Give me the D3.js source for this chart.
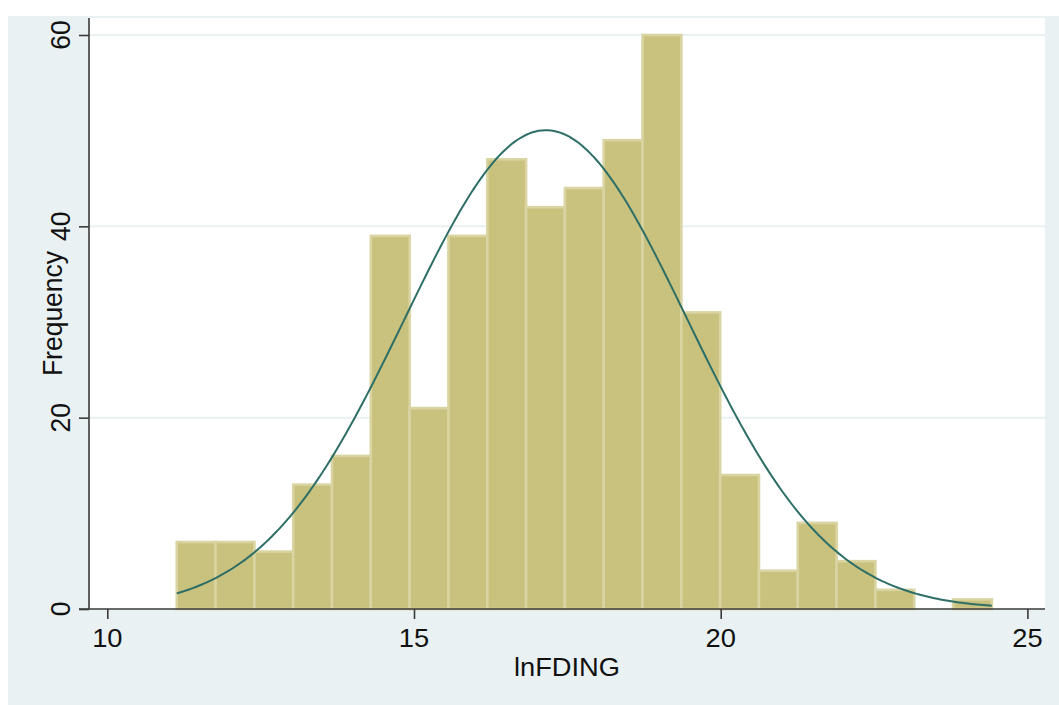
<!DOCTYPE html>
<html>
<head>
<meta charset="utf-8">
<script src="https://cdn.jsdelivr.net/npm/d3@7"></script>
<style>
  body { margin: 0; background: #fff; }
  svg { display: block; }
</style>
</head>
<body>
<div class="hist"></div>
<script>
// histogram of lnFDING, 21 bins
var binStart = 11.132,
  binWidth = 0.6328,
  counts = [7, 7, 6, 13, 16, 39, 21, 39, 47, 42, 44, 49, 60, 31, 14, 4, 9, 5, 2, 0, 1];

var xTicks = [10, 15, 20, 25],
  yTicks = [0, 20, 40, 60];

var xTitle = "lnFDING",
  yTitle = "Frequency";

// normal overlay (mean / sd)
var mean = 17.15,
  sd = 2.30;

var width = 1059,
  height = 705,
  plot = { left: 89, right: 1045, top: 18, bottom: 609 },
  stretch = 1.03,
  fontSize = 26.5;

var svg = d3.select(".hist").append("svg")
  .attr("width", width)
  .attr("height", height)
  .style("font-family", "'Liberation Sans', Arial, Helvetica, sans-serif")

svg.append("rect")
  .attr("x", 8).attr("y", 16)
  .attr("width", width - 8).attr("height", height - 16)
  .attr("fill", "#e9f1f3")

svg.append("rect")
  .attr("x", plot.left).attr("y", plot.top)
  .attr("width", plot.right - plot.left).attr("height", plot.bottom - plot.top)
  .attr("fill", "#ffffff")

var xScale = d3.scaleLinear()
  .domain([10, 25])
  .range([107.3, 1027.4])

var yScale = d3.scaleLinear()
  .domain([0, 60])
  .range([609, 35])

// grid
svg.append("g")
  .selectAll("line")
  .data(yTicks.slice(1))
  .enter().append("line")
  .attr("x1", plot.left)
  .attr("x2", plot.right)
  .attr("y1", yScale)
  .attr("y2", yScale)
  .attr("stroke", "#e9f1f3")
  .attr("stroke-width", 2)

// bars
var bins = counts.map(function(c, i) {
  return { x0: binStart + i * binWidth, x1: binStart + (i + 1) * binWidth, n: c }
})

svg.append("g")
  .selectAll("rect")
  .data(bins.filter(function(d) { return d.n > 0 }))
  .enter().append("rect")
  .attr("x", function(d) { return xScale(d.x0) })
  .attr("width", function(d) { return xScale(d.x1) - xScale(d.x0) })
  .attr("y", function(d) { return yScale(d.n) })
  .attr("height", function(d) { return yScale(0) - yScale(d.n) })
  .attr("fill", "#c9c17e")
  .attr("stroke", "#d9d4a1")
  .attr("stroke-width", 2.6)

// normal density scaled to frequency
var total = d3.sum(counts),
  dataMax = binStart + counts.length * binWidth,
  peak = total * binWidth / (sd * Math.sqrt(2 * Math.PI));

var curve = d3.range(binStart, dataMax, 0.05).concat([dataMax]).map(function(x) {
  return [x, peak * Math.exp(-Math.pow(x - mean, 2) / (2 * sd * sd))]
})

svg.append("path")
  .datum(curve)
  .attr("fill", "none")
  .attr("stroke", "#2d6f66")
  .attr("stroke-width", 2)
  .attr("d", d3.line()
    .x(function(d) { return xScale(d[0]) })
    .y(function(d) { return yScale(d[1]) }))

// axes
var xAxis = svg.append("g")
  .attr("transform", `translate(0,${plot.bottom})`)
  .call(d3.axisBottom(xScale).tickValues(xTicks).tickSize(10).tickSizeOuter(0))

var yAxis = svg.append("g")
  .attr("transform", `translate(${plot.left},0)`)
  .call(d3.axisLeft(yScale).tickValues(yTicks).tickSize(10).tickSizeOuter(0))

;[xAxis, yAxis].forEach(function(ax) {
  ax.select(".domain").remove()
  ax.selectAll(".tick line").attr("stroke", "#3a3a3a").attr("stroke-width", 1.6)
  ax.selectAll(".tick text").remove()
})

svg.append("line")
  .attr("x1", plot.left - 10).attr("x2", plot.right)
  .attr("y1", plot.bottom).attr("y2", plot.bottom)
  .attr("stroke", "#3a3a3a").attr("stroke-width", 1.6)

svg.append("line")
  .attr("x1", plot.left).attr("x2", plot.left)
  .attr("y1", plot.top).attr("y2", plot.bottom)
  .attr("stroke", "#3a3a3a").attr("stroke-width", 1.6)

function label(x, y, txt, rotated) {
  svg.append("text")
    .attr("transform", `translate(${x},${y}) scale(${stretch},1)` + (rotated ? " rotate(-90)" : ""))
    .attr("text-anchor", "middle")
    .attr("font-size", fontSize)
    .attr("fill", "#111")
    .text(txt)
}

xTicks.forEach(function(t) { label(xScale(t), 646.5, t, false) })
yTicks.forEach(function(t) { label(70, yScale(t), t, true) })

label((plot.left + plot.right) / 2, 675.5, xTitle, false)
label(62, (plot.top + plot.bottom) / 2, yTitle, true)
</script>
</body>
</html>
